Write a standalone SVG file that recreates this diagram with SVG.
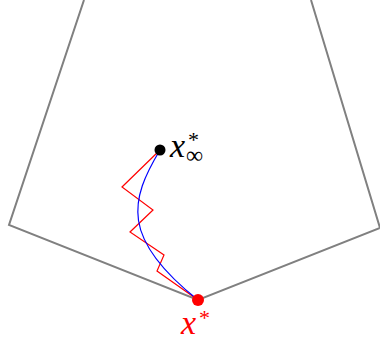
<svg xmlns="http://www.w3.org/2000/svg" width="380" height="341" viewBox="0 0 380 341">
<style>
.frame{fill:none;stroke:#808080;stroke-width:2}
.lbl{font-family:"Liberation Serif","DejaVu Serif",serif}
.it{font-style:italic}
</style>
<rect width="380" height="341" fill="#fff"/>
<polyline id="region" class="frame" points="84,0 9,225 198,300 380,228 311,0"/>
<g id="connectors">
<polyline fill="none" stroke="#ff0000" stroke-width="1.2" points="160,150 122,187 153,210 130,232 164,255 157,271 198,300"/>
<path fill="none" stroke="#0000ff" stroke-width="1.2" d="M160,150 C130,200 120,238 198,300"/>
</g>
<g id="x-inf">
<circle cx="160" cy="150" r="5.5" fill="#000"/>
<text class="lbl" x="170" y="157" font-size="34" fill="#000"><tspan class="it">x</tspan><tspan dx="3" dy="-10" font-size="22">*</tspan><tspan dx="-13" dy="16" font-size="24">∞</tspan></text>
</g>
<g id="x-star">
<circle cx="198" cy="300" r="6" fill="#ff0000"/>
<text class="lbl" x="181" y="334" font-size="34" fill="#ff0000"><tspan class="it">x</tspan><tspan dx="3" dy="-9" font-size="22">*</tspan></text>
</g>
</svg>
